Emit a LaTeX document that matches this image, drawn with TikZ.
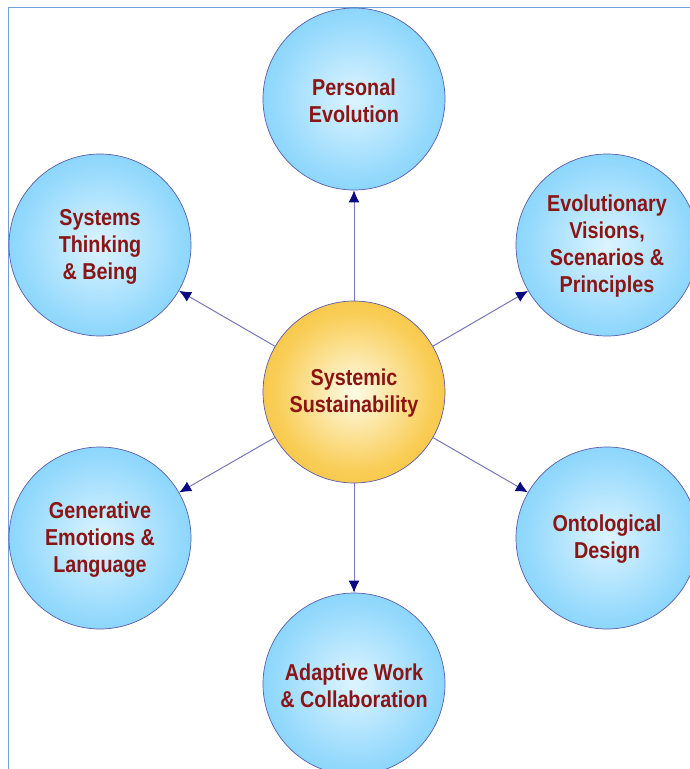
\documentclass[tikz,border=0pt]{standalone}
\usepackage{fontspec}
\newfontfamily\labelfont[FakeStretch=0.86]{Liberation Sans}
\usetikzlibrary{arrows.meta}
\definecolor{bIn}{HTML}{DDF4FF}
\definecolor{bMid}{HTML}{94D9FC}
\definecolor{bOut}{HTML}{4CC0FA}
\definecolor{oIn}{HTML}{FFFBE6}
\definecolor{oMid}{HTML}{F9CD55}
\definecolor{oOut}{HTML}{F0A60C}
\definecolor{rimcol}{HTML}{5C5CAA}
\definecolor{txtcol}{HTML}{8B1414}
\definecolor{linecol}{HTML}{7676B8}
\definecolor{tipcol}{HTML}{0A0A80}
\definecolor{framecol}{HTML}{6F9FD8}
\pgfdeclareradialshading{blueball}{\pgfpointorigin}{color(0bp)=(bIn); color(22bp)=(bMid); color(50bp)=(bOut)}
\pgfdeclareradialshading{orangeball}{\pgfpointorigin}{color(0bp)=(oIn); color(22bp)=(oMid); color(50bp)=(oOut)}
\tikzset{
  ball/.style={circle, minimum size=182pt, inner sep=0pt, draw=rimcol, line width=0.7pt},
  blueb/.style={ball, shading=blueball},
  orangeb/.style={ball, shading=orangeball},
  lbl/.style={align=center, text=txtcol, inner sep=0pt,
    font=\labelfont\bfseries\fontsize{23}{27}\selectfont},
  link/.style={draw=linecol, line width=1pt, -{Latex[length=12pt,width=11pt,color=tipcol]}}
}
\begin{document}
\begin{tikzpicture}[x=1pt,y=-1pt]
\useasboundingbox (0,0) rectangle (690,769);
\clip (0,0) rectangle (690,769);
\draw[framecol, line width=1pt] (8,769) -- (8,7) -- (690,7);
\node[orangeb] (c) at (354,392) {};
\node[blueb] (pe) at (354,99) {};
\node[blueb] (st) at (100,245) {};
\node[blueb] (ev) at (607,245) {};
\node[blueb] (ge) at (100,538) {};
\node[blueb] (od) at (607,538) {};
\node[blueb] (aw) at (354,684) {};
\node[lbl] (ct) at ([yshift=-1.5pt]c.center) {Systemic\\Sustainability};
\node[lbl] (pet) at ([yshift=-1.5pt]pe.center) {Personal\\Evolution};
\node[lbl] (stt) at ([yshift=-1.5pt]st.center) {Systems\\Thinking\\\& Being};
\node[lbl] (evt) at ([yshift=-1.5pt]ev.center) {Evolutionary\\Visions,\\Scenarios \&\\Principles};
\node[lbl] (get) at ([yshift=-1.5pt]ge.center) {Generative\\Emotions \&\\Language};
\node[lbl] (odt) at ([yshift=-1.5pt]od.center) {Ontological\\Design};
\node[lbl] (awt) at ([yshift=-1.5pt]aw.center) {Adaptive Work\\\& Collaboration};
\foreach \t in {pe,st,ev,ge,od,aw} \draw[link] (c) -- (\t);
\end{tikzpicture}
\end{document}
